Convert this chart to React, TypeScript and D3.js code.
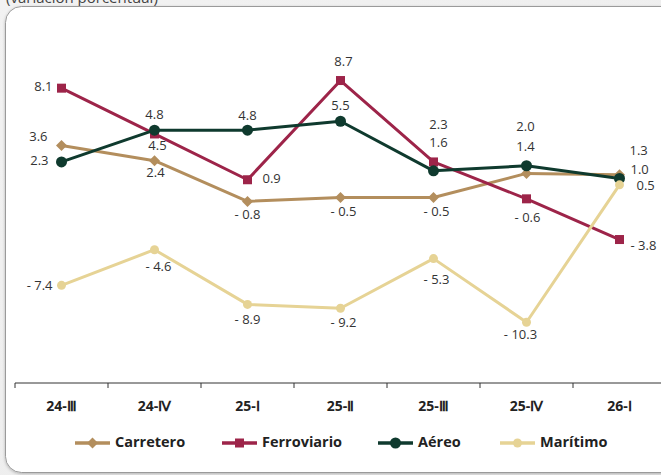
import React from "react";
import * as d3 from "d3";

const categories = ["24-Ⅲ", "24-Ⅳ", "25-Ⅰ", "25-Ⅱ", "25-Ⅲ", "25-Ⅳ", "26-Ⅰ"];
const carretero = [3.6, 2.4, -0.8, -0.5, -0.5, 1.4, 1.3];
const ferroviario = [8.1, 4.5, 0.9, 8.7, 2.3, -0.6, -3.8];
const aereo = [2.3, 4.8, 4.8, 5.5, 1.6, 2.0, 1.0];
const maritimo = [-7.4, -4.6, -8.9, -9.2, -5.3, -10.3, 0.5];
const yDomain = [-15, 10];

// label layout: [dx, dy, anchor]
type LP = [number, number, string];
const carreteroLabels: LP[] = [[-14, -8, "end"], [1, 13, "middle"], [0, 14, "middle"], [3, 15, "middle"], [3, 15, "middle"], [-1, -26, "middle"], [10, -23, "start"]];
const aereoLabels: LP[] = [[-13, 0, "end"], [0, -15, "middle"], [0, -14, "middle"], [0, -15, "middle"], [5, -27, "middle"], [-1, -38, "middle"], [11, -8, "start"]];
const ferroviarioLabels: LP[] = [[-9, -1, "end"], [3, 13, "middle"], [15, 0, "start"], [3, -18, "middle"], [5, -36, "middle"], [1, 20, "middle"], [11, 7, "start"]];
const maritimoLabels: LP[] = [[-9, 1, "end"], [4, 18, "middle"], [0, 16, "middle"], [3, 15, "middle"], [3, 22, "middle"], [-6, 13, "middle"], [17, 2, "start"]];

const series = [
  { name: "Carretero", values: carretero, color: "#b38e5d", marker: "diamond", labels: carreteroLabels },
  { name: "Ferroviario", values: ferroviario, color: "#9d2449", marker: "square", labels: ferroviarioLabels },
  { name: "Aéreo", values: aereo, color: "#0f3a2e", marker: "circle", labels: aereoLabels },
  { name: "Marítimo", values: maritimo, color: "#e6d395", marker: "smallcircle", labels: maritimoLabels },
];
const legendX = [75, 222, 378, 500];

const W = 661, H = 475;
const FONT = "'Open Sans', 'Noto Sans', sans-serif";

function fmt(v: number) {
  return v < 0 ? `- ${Math.abs(v).toFixed(1)}` : v.toFixed(1);
}

function Marker({ type, x, y, color }: { type: string; x: number; y: number; color: string }) {
  if (type === "diamond") {
    const s = 5.5;
    return <path d={`M${x},${y - s}L${x + s},${y}L${x},${y + s}L${x - s},${y}Z`} fill={color} />;
  }
  if (type === "square") {
    return <rect x={x - 4.5} y={y - 4.5} width={9} height={9} fill={color} />;
  }
  if (type === "circle") return <circle cx={x} cy={y} r={5.5} fill={color} />;
  return <circle cx={x} cy={y} r={4.5} fill={color} />;
}

export default function App() {
  const x = d3.scaleBand<string>().domain(categories).range([15, 666]);
  const y = d3.scaleLinear().domain(yDomain).range([382, 64]);
  const cx = (c: string) => (x(c) as number) + x.bandwidth() / 2;
  const line = d3
    .line<number>()
    .x((_, i) => cx(categories[i]))
    .y((d) => y(d));
  const axisY = 383;
  const ticks = categories.map((c) => x(c) as number).concat([x.range()[1]]);

  return (
    <div style={{ position: "fixed", left: 0, top: 0, width: W, height: H }}>
      <svg width={W} height={H} style={{ display: "block" }}>
        <defs>
          <linearGradient id="bg" x1="0" y1="0" x2="1" y2="1">
            <stop offset="0" stopColor="#f2f2f2" />
            <stop offset="1" stopColor="#ebebeb" />
          </linearGradient>
          <filter id="sh" x="-5%" y="-5%" width="110%" height="110%">
            <feDropShadow dx="0" dy="1" stdDeviation="1.5" floodColor="#000" floodOpacity="0.25" />
          </filter>
        </defs>
        <rect x={0} y={0} width={W} height={H} fill="url(#bg)" />
        <text x={6} y={3} fontFamily={FONT} fontSize={15} fill="#444">
          (variación porcentual)
        </text>
        <rect x={5.5} y={6.5} width={672} height={466} rx={16} fill="#fff" stroke="#9a9a9a" strokeWidth={1} filter="url(#sh)" />

        {/* axis */}
        <line x1={ticks[0]} x2={W + 5} y1={axisY} y2={axisY} stroke="#333" strokeWidth={1} />
        {ticks.map((t, i) => (
          <line key={i} x1={t} x2={t} y1={axisY} y2={axisY + 5} stroke="#333" strokeWidth={1} />
        ))}
        {categories.map((c) => (
          <text key={c} x={cx(c)} y={407} textAnchor="middle" dominantBaseline="middle" fontFamily={FONT} fontWeight={700} fontSize={14} fill="#222">
            {c}
          </text>
        ))}

        {/* lines */}
        {series.map((s) => (
          <path key={s.name} d={line(s.values) as string} fill="none" stroke={s.color} strokeWidth={3} strokeLinejoin="round" />
        ))}
        {series.map((s) =>
          s.values.map((v, i) => <Marker key={s.name + i} type={s.marker} x={cx(categories[i])} y={y(v)} color={s.color} />)
        )}
        {series.map((s) =>
          s.values.map((v, i) => {
            const [dx, dy, anchor] = s.labels[i];
            return (
              <text key={"l" + s.name + i} x={cx(categories[i]) + dx} y={y(v) + dy} textAnchor={anchor} dominantBaseline="middle" fontFamily={FONT} fontSize={13} fill="#333">
                {fmt(v)}
              </text>
            );
          })
        )}

        {/* legend */}
        {series.map((s, i) => (
          <g key={"lg" + s.name}>
            <line x1={legendX[i]} x2={legendX[i] + 35} y1={443} y2={443} stroke={s.color} strokeWidth={3.5} />
            <Marker type={s.marker} x={legendX[i] + 17.5} y={443} color={s.color} />
            <text x={legendX[i] + 40} y={443} dominantBaseline="middle" fontFamily={FONT} fontWeight={700} fontSize={14.5} fill="#222">
              {s.name}
            </text>
          </g>
        ))}
      </svg>
    </div>
  );
}
